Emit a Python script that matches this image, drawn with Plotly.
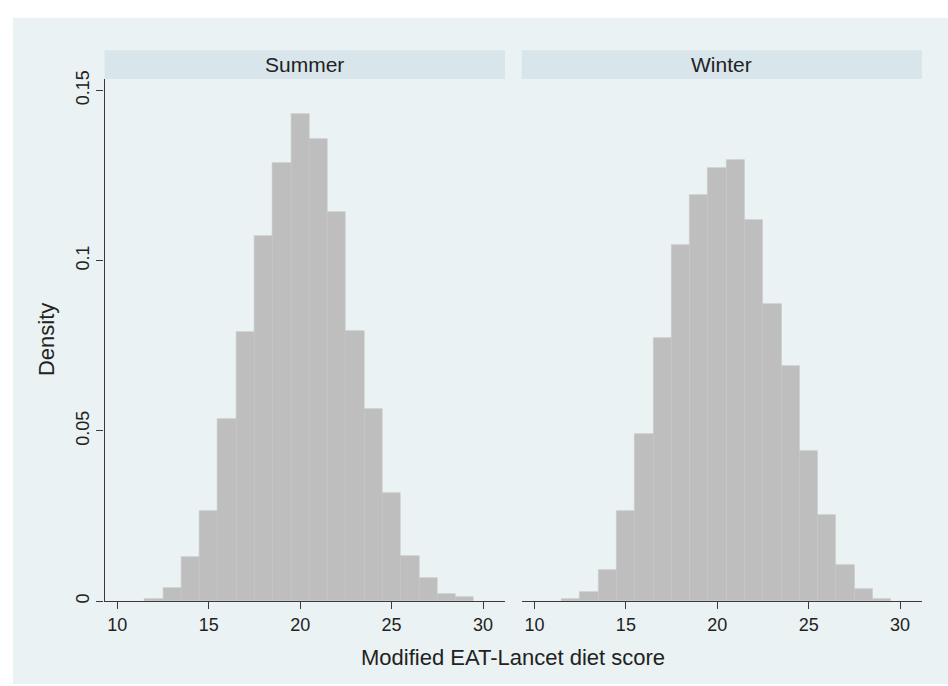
import plotly.graph_objects as go

# Histogram bins (width 1, centred on integer scores)
bin_centers = [12, 13, 14, 15, 16, 17, 18, 19, 20, 21, 22, 23, 24, 25, 26, 27, 28, 29]
summer_density = [0.0008, 0.0040, 0.0131, 0.0266, 0.0535, 0.0792, 0.1074, 0.1287, 0.1432,
                  0.1357, 0.1144, 0.0793, 0.0564, 0.0319, 0.0134, 0.0067, 0.0022, 0.0014]
winter_density = [0.0008, 0.0027, 0.0093, 0.0266, 0.0490, 0.0773, 0.1045, 0.1193, 0.1272,
                  0.1297, 0.1119, 0.0874, 0.0691, 0.0442, 0.0253, 0.0107, 0.0037, 0.0007]
panel_titles = ["Summer", "Winter"]
x_ticks = [10, 15, 20, 25, 30]
y_ticks = [0, 0.05, 0.1, 0.15]
y_tick_text = ["0", "0.05", "0.1", "0.15"]

W, H = 948, 686
BG = "#EAF2F3"
STRIP = "#D8E5EB"
BAR = "#BEBEBE"
AXIS = "#3A3A3A"
FONT = "Liberation Sans, Arial, sans-serif"

def px(x):
    return x / W

def py(y):
    return 1 - y / H

top, bottom = 72, 602
panels = [(104.5, 505.0), (521.7, 922.0)]

fig = go.Figure()
for i, dens in enumerate([summer_density, winter_density]):
    fig.add_trace(go.Bar(
        x=bin_centers, y=dens, width=1,
        marker=dict(color=BAR, line=dict(width=0.6, color="#C6C6C6")),
        xaxis="x" if i == 0 else "x2", yaxis="y" if i == 0 else "y2",
        showlegend=False, hoverinfo="x+y",
    ))

common_x = dict(
    range=[9.3, 31.2], tickvals=x_ticks, ticks="outside", ticklen=7, tickwidth=1,
    tickcolor=AXIS, showline=True, linecolor=AXIS, linewidth=1.2, showgrid=False,
    zeroline=False, tickfont=dict(family=FONT, size=18, color="#222"),
)
common_y = dict(
    range=[0, 0.1534], tickvals=y_ticks, showgrid=True, gridcolor=BG, gridwidth=1.2,
    zeroline=False, domain=[py(bottom), py(top)],
)

fig.update_layout(
    width=W, height=H, margin=dict(l=0, r=0, t=0, b=0),
    paper_bgcolor="white", plot_bgcolor="white", bargap=0,
    xaxis=dict(domain=[px(panels[0][0]), px(panels[0][1])], anchor="y", **common_x),
    xaxis2=dict(domain=[px(panels[1][0]), px(panels[1][1])], anchor="y2", **common_x),
    yaxis=dict(anchor="x", ticktext=y_tick_text, tickangle=-90, ticks="outside",
               ticklen=7, tickwidth=1, tickcolor=AXIS, showline=True, linecolor=AXIS,
               linewidth=1.2, tickfont=dict(family=FONT, size=18, color="#222"),
               **common_y),
    yaxis2=dict(anchor="x2", showticklabels=False, showline=False, ticks="", **common_y),
    font=dict(family=FONT, color="#222"),
)

shapes = [dict(type="rect", xref="paper", yref="paper", x0=px(13), x1=1, y0=0, y1=py(10),
               fillcolor=BG, line=dict(width=0), layer="below")]
annotations = []
for (x0, x1), title in zip(panels, panel_titles):
    shapes.append(dict(type="rect", xref="paper", yref="paper", x0=px(x0), x1=px(x1),
                       y0=py(top), y1=py(43), fillcolor=STRIP, line=dict(width=0)))
    annotations.append(dict(text=title, xref="paper", yref="paper", x=px((x0 + x1) / 2),
                            y=py(57.5), showarrow=False, xanchor="center", yanchor="middle",
                            font=dict(family=FONT, size=21, color="#222")))

annotations.append(dict(text="Modified EAT-Lancet diet score", xref="paper", yref="paper",
                        x=px((panels[0][0] + panels[1][1]) / 2), y=py(659), showarrow=False,
                        xanchor="center", yanchor="middle",
                        font=dict(family=FONT, size=22, color="#222")))
annotations.append(dict(text="Density", xref="paper", yref="paper", x=px(46),
                        y=py((top + bottom) / 2), showarrow=False, textangle=-90,
                        xanchor="center", yanchor="middle",
                        font=dict(family=FONT, size=22, color="#222")))

fig.update_layout(shapes=shapes, annotations=annotations)
fig.write_html("out.html")
